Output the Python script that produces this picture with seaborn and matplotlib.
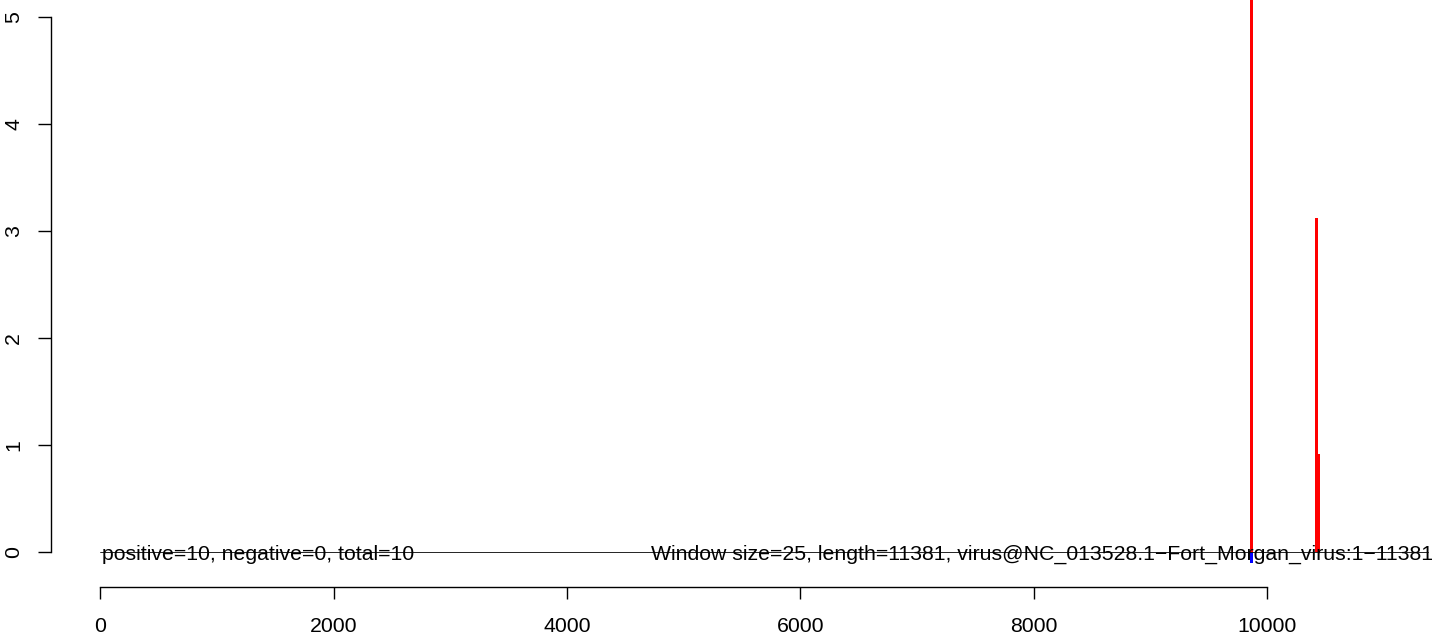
import numpy as np
import pandas as pd
import matplotlib
matplotlib.use("Agg")
import matplotlib.pyplot as plt
import seaborn as sns

# ---- data ----
genome_length = 11381
window_size = 25
pos_positions = [9876, 10426, 10451]
pos_values = [6.1, 3.12, 0.92]
neg_positions = [9876]
neg_values = [-0.10]
x_ticks = [0, 2000, 4000, 6000, 8000, 10000]
y_ticks = [0, 1, 2, 3, 4, 5]
left_label = "positive=10, negative=0, total=10"
right_label = ("Window size=25, length=11381, "
               "virus@NC_013528.1\u2212Fort_Morgan_virus:1\u221211381")

sns.set_theme(style="white")
plt.rcParams["font.family"] = ["Liberation Sans", "DejaVu Sans"]

W, H, DPI = 1435, 637, 100
fig = plt.figure(figsize=(W / DPI, H / DPI), dpi=DPI)
ax = fig.add_axes([51 / W, (H - 587) / H, (W - 51) / W, 587 / H])

pos_df = pd.DataFrame({"pos": pos_positions, "val": pos_values})
neg_df = pd.DataFrame({"pos": neg_positions, "val": neg_values})
brange = (1, genome_length + window_size)
sns.histplot(data=pos_df, x="pos", weights="val", binwidth=window_size,
             binrange=brange, color="#ff0000", alpha=1, linewidth=0,
             element="bars", ax=ax)
sns.histplot(data=neg_df, x="pos", weights="val", binwidth=window_size,
             binrange=brange, color="#0000ff", alpha=1, linewidth=0,
             element="bars", ax=ax)

# baseline
sns.lineplot(x=[1, genome_length], y=[0, 0], color="black", linewidth=0.6,
             ax=ax, zorder=1)

fs = 15.3
ax.annotate(left_label, xy=(1, 0), xytext=(1, -2),
            textcoords="offset points", ha="left", va="center",
            fontsize=fs, color="black", annotation_clip=False)
ax.annotate(right_label, xy=(genome_length, 0), xytext=(3, -2),
            textcoords="offset points", ha="right", va="center",
            fontsize=fs, color="black", annotation_clip=False)

ax.set_xlim(-422, 11437)
ax.set_ylim(-0.327, 5.159)
ax.set_xlabel("")
ax.set_ylabel("")
ax.set_xticks(x_ticks)
ax.set_xticklabels([str(v) for v in x_ticks])
ax.set_yticks(y_ticks)
ax.set_yticklabels([str(v) for v in y_ticks], rotation=90, va="center")

for s in ["top", "right"]:
    ax.spines[s].set_visible(False)
for s in ["left", "bottom"]:
    ax.spines[s].set_color("black")
    ax.spines[s].set_linewidth(1.0)
ax.spines["left"].set_bounds(0, 5)
ax.spines["bottom"].set_bounds(0, 10000)

ax.tick_params(axis="x", direction="out", length=8.3, width=1.0, pad=13.5,
               labelsize=fs, colors="black", bottom=True)
ax.tick_params(axis="y", direction="out", length=9.4, width=1.0, pad=10.5,
               labelsize=fs, colors="black", left=True)
ax.grid(False)
ax.set_facecolor("white")
fig.patch.set_facecolor("white")

fig.savefig("out.png", dpi=DPI)
